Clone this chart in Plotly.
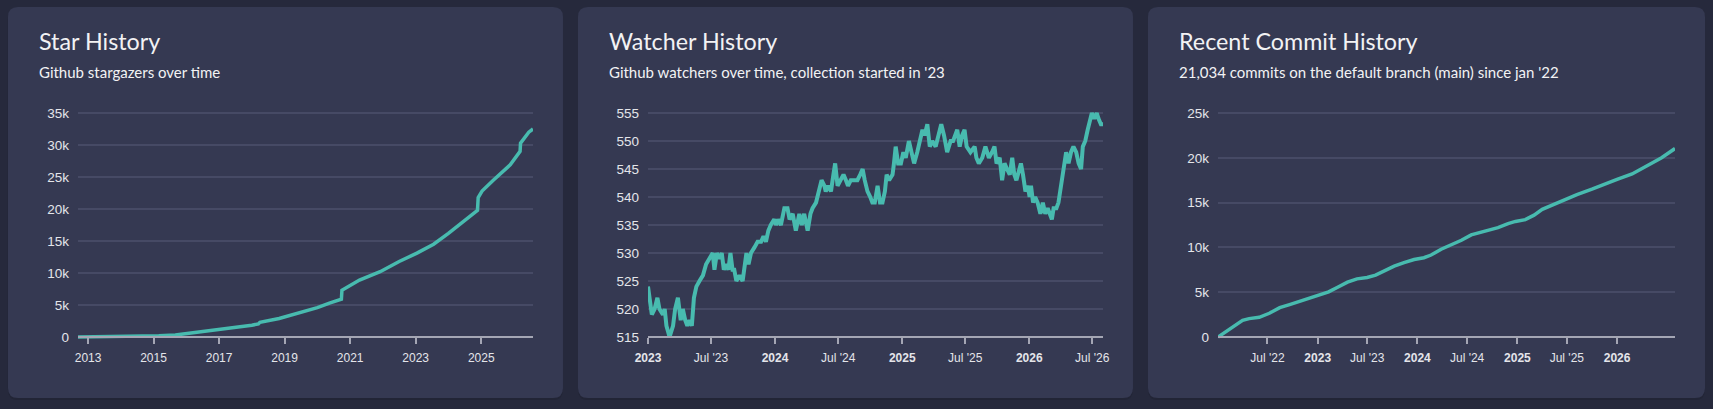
import pandas as pd
import plotly.graph_objects as go

W, H = 1713, 409

# ---- data ----
star_dates = [
    "2012-09-11", "2013-06-01", "2014-01-01", "2014-09-01", "2015-03-01",
    "2015-09-01", "2016-03-01", "2016-07-01", "2017-01-01", "2017-07-01",
    "2018-01-01", "2018-03-15", "2018-04-01", "2018-11-01", "2019-06-01",
    "2019-09-01", "2020-01-01", "2020-05-15", "2020-09-25", "2020-10-01",
    "2021-01-01", "2021-04-15", "2021-12-01", "2022-07-01", "2023-01-15",
    "2023-07-20", "2024-01-01", "2024-08-25", "2024-11-20", "2024-11-28",
    "2025-01-10", "2025-05-15", "2025-11-20", "2026-03-10", "2026-03-15",
    "2026-06-15", "2026-08-01",
]
star_counts = [
    0, 20, 60, 120, 180,
    330, 650, 900, 1100, 1450,
    1850, 2050, 2300, 2900, 3700,
    4000, 4600, 5300, 5900, 7300,
    8000, 8900, 10200, 11800, 13100,
    14500, 16200, 18800, 19800, 21800,
    22800, 24500, 26900, 29000, 30300,
    32000, 32500,
]

watcher_start = "2023-01-01"
watcher_days = [
    0, 5, 11, 19, 27, 33, 43, 48, 53, 62, 72, 78, 86, 94, 100, 107, 113, 119,
    126, 132, 139, 148, 158, 167, 177, 186, 191, 198, 205, 212, 218, 224, 231,
    237, 243, 248, 254, 263, 272, 277, 283, 289, 296, 306, 315, 325, 332, 339,
    346, 353, 363, 368, 374, 382, 392, 401, 407, 416, 425, 435, 442, 449, 459,
    467, 473, 483, 492, 499, 507, 511, 518, 526, 533, 538, 545, 553, 562, 569,
    575, 583, 593, 602, 610, 617, 623, 631, 639, 645, 652, 660, 667, 674, 681,
    686, 693, 703, 707, 712, 719, 727, 734, 741, 750, 757, 765, 774, 782, 789,
    795, 803, 810, 817, 827, 836, 843, 851, 860, 870, 877, 889, 896, 903, 910,
    916, 927, 939, 944, 951, 961, 970, 980, 989, 996, 1002, 1011, 1018, 1025,
    1032, 1040, 1047, 1053, 1059, 1066, 1072, 1078, 1085, 1092, 1097, 1101,
    1107, 1113, 1120, 1128, 1135, 1142, 1149, 1155, 1161, 1166, 1174, 1180,
    1185, 1190, 1197, 1202, 1209, 1216, 1223, 1231, 1238, 1245, 1250, 1257,
    1264, 1269, 1276, 1283, 1290, 1295, 1302, 1308,
]
watcher_counts = [
    524, 521, 519, 520, 522, 520, 519, 520, 517, 515, 517, 520, 522, 518, 520,
    518, 517, 518, 517, 522, 524, 525, 526, 528, 529, 530, 527, 530, 529, 530,
    527, 528, 527, 530, 527, 527, 525, 526, 525, 528, 530, 528, 530, 531, 532,
    532, 533, 532, 534, 535, 536, 535, 536, 535, 538, 538, 536, 537, 534, 537,
    535, 537, 534, 537, 538, 539, 541, 543, 542, 541, 542, 541, 544, 546, 542,
    543, 544, 543, 542, 543, 543, 543, 544, 545, 543, 541, 540, 539, 539, 542,
    539, 539, 541, 544, 543, 544, 546, 549, 546, 546, 548, 547, 550, 548, 546,
    548, 550, 552, 551, 553, 549, 550, 549, 551, 553, 551, 548, 550, 550, 552,
    549, 551, 552, 549, 548, 549, 547, 546, 547, 549, 547, 548, 549, 546, 547,
    543, 546, 545, 544, 547, 544, 543, 545, 546, 544, 541, 542, 540, 542, 539,
    540, 539, 537, 539, 537, 538, 537, 536, 538, 538, 539, 541, 544, 546, 548,
    546, 548, 549, 548, 546, 545, 549, 550, 552, 553, 555, 554, 555, 554, 553,
    553,
]

commit_dates = [
    "2022-01-01", "2022-02-01", "2022-03-01", "2022-04-01", "2022-04-25",
    "2022-06-01", "2022-07-08", "2022-08-15", "2022-09-20", "2022-10-27",
    "2022-12-05", "2023-01-10", "2023-02-10", "2023-03-15", "2023-04-20",
    "2023-05-25", "2023-07-01", "2023-08-01", "2023-09-01", "2023-10-08",
    "2023-11-13", "2023-12-20", "2024-01-25", "2024-02-20", "2024-03-28",
    "2024-05-04", "2024-06-10", "2024-07-16", "2024-09-05", "2024-10-22",
    "2024-11-28", "2024-12-25", "2025-01-30", "2025-03-03", "2025-04-02",
    "2025-05-12", "2025-06-25", "2025-08-07", "2025-10-01", "2025-11-24",
    "2026-01-01", "2026-02-25", "2026-04-20", "2026-06-13", "2026-08-01",
]
commit_counts = [
    0, 600, 1150, 1850, 2050,
    2200, 2650, 3280, 3620, 4000,
    4400, 4740, 5040, 5560, 6120,
    6490, 6640, 6900, 7400, 7900,
    8300, 8650, 8850, 9150, 9800,
    10300, 10800, 11400, 11850, 12200,
    12650, 12900, 13100, 13600, 14250,
    14750, 15400, 15900, 16500, 17200,
    17600, 18200, 19100, 20000, 21034,
]

star_tick_vals = ["2013-01-01", "2015-01-01", "2017-01-01", "2019-01-01",
                  "2021-01-01", "2023-01-01", "2025-01-01"]
star_tick_text = ["2013", "2015", "2017", "2019", "2021", "2023", "2025"]
watcher_tick_vals = ["2023-01-01", "2023-07-01", "2024-01-01", "2024-07-01",
                     "2025-01-01", "2025-07-01", "2026-01-01", "2026-07-01"]
watcher_tick_text = ["<b>2023</b>", "Jul '23", "<b>2024</b>", "Jul '24",
                     "<b>2025</b>", "Jul '25", "<b>2026</b>", "Jul '26"]
commit_tick_vals = ["2022-07-01", "2023-01-01", "2023-07-01", "2024-01-01",
                    "2024-07-01", "2025-01-01", "2025-07-01", "2026-01-01"]
commit_tick_text = ["Jul '22", "<b>2023</b>", "Jul '23", "<b>2024</b>",
                    "Jul '24", "<b>2025</b>", "Jul '25", "<b>2026</b>"]

watcher_dates = pd.to_datetime(watcher_start) + pd.to_timedelta(watcher_days, unit="D")

# ---- styling ----
PAGE_BG = "#26293c"
CARD_BG = "#353952"
GRID = "#464a65"
AXIS = "#a4a6b4"
LINE = "#48bbaf"
TEXT = "#f2f2f4"
TICK_TEXT = "#e4e5ea"
TITLE_FONT = "Lato"
TICK_FONT = "Liberation Sans"


def px_x(x):
    return x / W


def px_y(y):
    return 1 - y / H


def card_path(x0, y0, x1, y1, r=10):
    def p(x, y):
        return f"{px_x(x):.5f},{px_y(y):.5f}"
    return (f"M {p(x0 + r, y0)} L {p(x1 - r, y0)} Q {p(x1, y0)} {p(x1, y0 + r)} "
            f"L {p(x1, y1 - r)} Q {p(x1, y1)} {p(x1 - r, y1)} L {p(x0 + r, y1)} "
            f"Q {p(x0, y1)} {p(x0, y1 - r)} L {p(x0, y0 + r)} Q {p(x0, y0)} {p(x0 + r, y0)} Z")


CARD_TOP, CARD_BOTTOM = 7, 398
PLOT_TOP, PLOT_BOTTOM, AXIS_Y = 110, 341, 337

panels = [
    dict(card=(8, 563), title="Star History", sub="Github stargazers over time",
         x=star_dates, y=star_counts, ymin=0, ymax=35000, dtick=5000, fmt="~s",
         tv=star_tick_vals, tt=star_tick_text, width=3.5),
    dict(card=(578, 1133), title="Watcher History",
         sub="Github watchers over time, collection started in '23",
         x=watcher_dates, y=watcher_counts, ymin=515, ymax=555, dtick=5, fmt="",
         tv=watcher_tick_vals, tt=watcher_tick_text, width=4),
    dict(card=(1148, 1705), title="Recent Commit History",
         sub="21,034 commits on the default branch (main) since jan '22",
         x=commit_dates, y=commit_counts, ymin=0, ymax=25000, dtick=5000, fmt="~s",
         tv=commit_tick_vals, tt=commit_tick_text, width=3.5),
]

fig = go.Figure()
shapes, annotations = [], []
layout = {}

for i, pnl in enumerate(panels, start=1):
    cx0, cx1 = pnl["card"]
    # faint drop shadow, then the card itself
    shapes.append(dict(type="path", path=card_path(cx0, CARD_TOP + 2, cx1, CARD_BOTTOM + 2),
                       xref="paper", yref="paper", fillcolor="#222536",
                       line=dict(width=0), layer="below"))
    shapes.append(dict(type="path", path=card_path(cx0, CARD_TOP, cx1, CARD_BOTTOM),
                       xref="paper", yref="paper", fillcolor=CARD_BG,
                       line=dict(width=0), layer="below"))
    annotations.append(dict(text=pnl["title"], x=px_x(cx0 + 29), y=px_y(40.5),
                            xref="paper", yref="paper", xanchor="left", yanchor="middle",
                            showarrow=False,
                            font=dict(family=TITLE_FONT, size=23.3, color=TEXT)))
    annotations.append(dict(text=pnl["sub"], x=px_x(cx0 + 29), y=px_y(72),
                            xref="paper", yref="paper", xanchor="left", yanchor="middle",
                            showarrow=False, font=dict(family=TITLE_FONT, size=15, color=TEXT)))

    # value per pixel, so the bottom value sits on the axis line (not clipped)
    per_px = (pnl["ymax"] - pnl["ymin"]) / (AXIS_Y - 113)
    y_lo = pnl["ymin"] - (PLOT_BOTTOM - AXIS_Y) * per_px
    y_hi = pnl["ymax"] + (113 - PLOT_TOP) * per_px

    sx = "" if i == 1 else str(i)
    fig.add_trace(go.Scatter(x=pnl["x"], y=pnl["y"], mode="lines",
                             line=dict(color=LINE, width=pnl["width"]),
                             xaxis="x" + sx, yaxis="y" + sx, hoverinfo="skip",
                             showlegend=False))

    layout["xaxis" + sx] = dict(
        domain=[px_x(cx0 + 70), px_x(cx1 - 30)],
        range=[pnl["x"][0], pnl["x"][-1]], type="date",
        anchor="free", position=px_y(AXIS_Y), automargin=False,
        showgrid=False, zeroline=False,
        showline=True, linecolor=AXIS, linewidth=1.5,
        ticks="outside", ticklen=6, tickwidth=1.5, tickcolor=AXIS,
        tickmode="array", tickvals=pnl["tv"], ticktext=pnl["tt"],
        tickfont=dict(family=TICK_FONT, size=12, color=TICK_TEXT),
        ticklabelstandoff=4, fixedrange=True,
    )
    layout["yaxis" + sx] = dict(
        domain=[px_y(PLOT_BOTTOM), px_y(PLOT_TOP)],
        range=[y_lo, y_hi], anchor="x" + sx, automargin=False,
        tickmode="linear", tick0=pnl["ymin"], dtick=pnl["dtick"], tickformat=pnl["fmt"],
        showgrid=True, gridcolor=GRID, gridwidth=1.5, zeroline=False,
        showline=False, ticks="",
        tickfont=dict(family=TICK_FONT, size=13.5, color=TICK_TEXT),
        ticklabelstandoff=8, fixedrange=True,
    )

fig.update_layout(
    width=W, height=H,
    margin=dict(l=0, r=0, t=0, b=0, pad=0, autoexpand=False),
    paper_bgcolor=PAGE_BG, plot_bgcolor="rgba(0,0,0,0)",
    shapes=shapes, annotations=annotations,
    hovermode=False, showlegend=False,
    **layout,
)

# drop the default page margin so the figure fills the window like the dashboard
page_js = ("document.body.style.margin='0';"
           f"document.body.style.background='{PAGE_BG}';"
           "document.body.style.overflow='hidden';")
fig.write_html("out.html", config={"displayModeBar": False}, post_script=page_js)
